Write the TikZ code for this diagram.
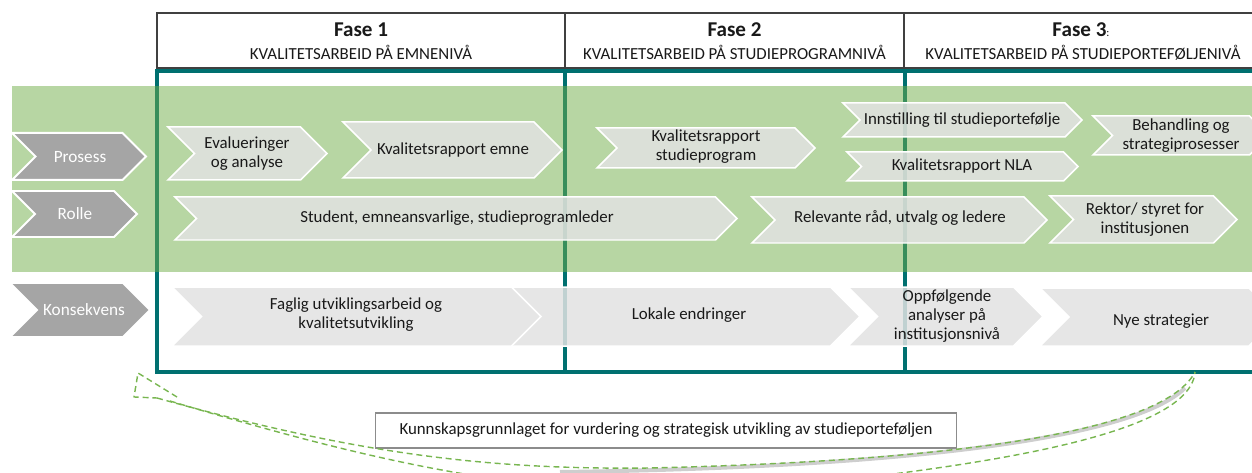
\documentclass[tikz,border=0pt]{standalone}
\usepackage{fontspec}
\setmainfont{Carlito}
\definecolor{tealA}{RGB}{0,112,112}
\definecolor{grnA}{RGB}{112,173,71}
\definecolor{lblgray}{RGB}{165,165,165}
\definecolor{chevgray}{RGB}{226,226,226}
\definecolor{txtc}{RGB}{25,25,25}
\definecolor{dashgrn}{RGB}{120,182,80}
\newcommand\chevpath[5]{%
  \path[#1] (#2,#4) -- ({#3-(#5-#4)/2},#4) -- (#3,{(#4+#5)/2}) -- ({#3-(#5-#4)/2},#5) -- (#2,#5) -- ({#2+(#5-#4)/2},{(#4+#5)/2}) -- cycle;}
\begin{document}
\begin{tikzpicture}[x=0.02cm,y=-0.02cm,
  hdr/.style={draw=black!75, line width=0.6pt},
  frameline/.style={draw=tealA, line width=0.08cm},
  lbl/.style={fill=lblgray, draw=white, line width=0.04cm},
  chv/.style={fill=chevgray, fill opacity=0.85, draw=white, line width=0.03cm},
  lbltxt/.style={text=white, font=\fontsize{9.8}{11}\selectfont, inner sep=0pt},
  btxt/.style={text=txtc, font=\fontsize{9.6}{10.8}\selectfont, align=center, inner sep=0pt},
  fasetxt/.style={text=txtc, font=\fontsize{12}{14}\selectfont\bfseries, inner sep=0pt, anchor=base},
  subtxt/.style={text=txtc, font=\fontsize{9.6}{11}\selectfont, inner sep=0pt, anchor=base},
  kbox/.style={draw=black!45, line width=0.6pt, fill=white, minimum width=11.64cm, minimum height=0.7cm, inner sep=0pt, text=txtc, font=\fontsize{9.6}{11}\selectfont},
  dasharr/.style={draw=dashgrn, line width=0.8pt, dash pattern=on 3.4pt off 2.2pt, line join=round},
  shadowline/.style={draw=black!35, line width=0.08cm, opacity=0.55}
]
\useasboundingbox (0,0) rectangle (1252,473);
% header
\path[fill=white] (157,13) rectangle (1262,68);
\draw[hdr] (1262,13) -- (157,13) -- (157,68) -- (1262,68);
\draw[hdr] (565,13) -- (565,68);
\draw[hdr] (904,13) -- (904,68);
\node[fasetxt] (f1) at (361,37) {Fase 1};
\node[subtxt] (s1) at (361,60) {KVALITETSARBEID PÅ EMNENIVÅ};
\node[fasetxt] (f2) at (734.5,37) {Fase 2};
\node[subtxt] (s2) at (734.5,60) {KVALITETSARBEID PÅ STUDIEPROGRAMNIVÅ};
\node[fasetxt] (f3) at (1081,37) {Fase 3{\fontsize{6.5}{7}\mdseries\selectfont:}};
\node[subtxt] (s3) at (1083,60) {KVALITETSARBEID PÅ STUDIEPORTEFØLJENIVÅ};
% teal frame
\draw[frameline] (1262,71) -- (157,71) -- (157,372) -- (1262,372);
\draw[frameline] (565,71) -- (565,372);
\draw[frameline] (905,71) -- (905,372);
% green band
\path[fill=grnA, fill opacity=0.5] (12,86) rectangle (1262,272);
% left labels
\chevpath{lbl}{12}{146}{133}{180}
\chevpath{lbl}{12}{137}{191}{237}
\chevpath{lbl}{10}{150}{283}{337}
\node[lbltxt] (lp) at (80,157) {Prosess};
\node[lbltxt] (lr) at (75,214) {Rolle};
\node[lbltxt] (lk) at (84,310) {Konsekvens};
% process row
\chevpath{chv}{168}{327}{127}{180}
\chevpath{chv}{343}{562}{122}{178}
\chevpath{chv}{597}{815}{128}{168}
\chevpath{chv}{843}{1082}{103}{137}
\chevpath{chv}{847}{1078}{152}{181}
\chevpath{chv}{1093}{1269}{116}{155}
\node[btxt] (p1) at (247,154) {Evalueringer\\og analyse};
\node[btxt] (p2) at (453,150) {Kvalitetsrapport emne};
\node[btxt] (p3) at (706,147) {Kvalitetsrapport\\studieprogram};
\node[btxt] (p4) at (962,120) {Innstilling til studieportefølje};
\node[btxt] (p5) at (962,166) {Kvalitetsrapport NLA};
\node[btxt] (p6) at (1181,136) {Behandling og\\strategiprosesser};
% role row
\chevpath{chv}{175}{737}{197}{240}
\chevpath{chv}{752}{1047}{197}{243}
\chevpath{chv}{1050}{1237}{196}{243}
\node[btxt] (r1) at (457,218) {Student, emneansvarlige, studieprogramleder};
\node[btxt] (r2) at (900,218) {Relevante råd, utvalg og ledere};
\node[btxt] (r3) at (1145,220) {Rektor/ styret for\\institusjonen};
% consequence row
\chevpath{chv}{510}{860}{287}{346}
\chevpath{chv}{172}{541}{287}{346}
\chevpath{chv}{1040}{1278}{288}{346}
\chevpath{chv}{848}{1043}{287}{346}
\node[btxt] (k1) at (356,315) {Faglig utviklingsarbeid og\\kvalitetsutvikling};
\node[btxt] (k2) at (689,315) {Lokale endringer};
\node[btxt] (k3) at (947,316) {Oppfølgende\\analyser på\\institusjonsnivå};
\node[btxt] (k4) at (1161,321) {Nye strategier};
% knowledge box
\node[kbox] (kb) at (666,430.5) {Kunnskapsgrunnlaget for vurdering og strategisk utvikling av studieporteføljen};
% curved dashed arrow
\path[shadowline, shift={(0,3)}] (560,469) .. controls (800,466) and (1120,448) .. (1185,385);
\draw[dasharr] (177,397) -- (138,373) -- (134,397) -- (157,398);
\draw[dasharr] (157,398) .. controls (350,452) and (480,470) .. (650,468) .. controls (900,462) and (1160,440) .. (1195,372);
\draw[dasharr] (170,401) .. controls (400,470) and (550,500) .. (750,490) .. controls (950,470) and (1190,440) .. (1195,372);
\end{tikzpicture}
\end{document}
